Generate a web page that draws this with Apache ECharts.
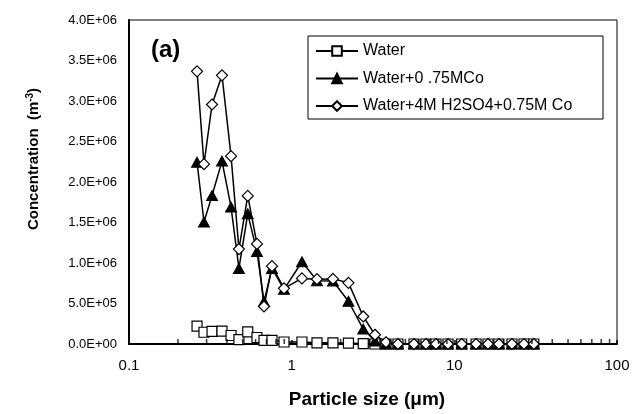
<!DOCTYPE html>
<html>
<head>
<meta charset="utf-8">
<script src="https://cdn.jsdelivr.net/npm/echarts@6/dist/echarts.min.js"></script>
<style>
  html, body { margin: 0; padding: 0; background: #fff; }
  #chart { width: 633px; height: 414px; }
</style>
</head>
<body>
<div id="chart"></div>
<script>
// particle size channels (um)
const sizes = [0.262, 0.289, 0.324, 0.373, 0.424, 0.474, 0.537, 0.612, 0.676, 0.757,
  0.897, 1.157, 1.431, 1.794, 2.234, 2.755, 3.25, 3.80, 4.50, 5.65,
  6.69, 7.71, 9.14, 11.1, 13.6, 16.1, 18.8, 22.6, 26.8, 30.8]

const water = [2.2e5, 1.45e5, 1.55e5, 1.6e5, 1.05e5, 5.5e4, 1.5e5, 8.0e4, 4.5e4, 4.5e4,
  2.5e4, 2.5e4, 1.5e4, 1.5e4, 1.0e4, 5e3, 0, 0, 0, 0,
  0, 0, 0, 0, 0, 0, 0, 0, 0, 0]

const waterCo = [2.245e6, 1.506e6, 1.834e6, 2.258e6, 1.69e6, 9.33e5, 1.607e6, 1.141e6, 5.24e5, 9.33e5,
  6.75e5, 1.015e6, 7.82e5, 7.77e5, 5.28e5, 1.84e5, 3.7e4, 0, 0, 0,
  0, 0, 0, 0, 0, 0, 0, 0, 0, 0]

const waterAcidCo = [3.366e6, 2.22e6, 2.957e6, 3.317e6, 2.319e6, 1.172e6, 1.828e6, 1.236e6, 4.63e5, 9.61e5,
  6.87e5, 8.1e5, 8.0e5, 8.04e5, 7.55e5, 3.4e5, 1.14e5, 2.1e4, 0, 0,
  0, 0, 0, 0, 0, 0, 0, 0, 0, 0]

// log axis minor tick positions
const minorTicks = [0.2, 0.3, 0.4, 0.5, 0.6, 0.7, 0.8, 0.9,
  2, 3, 4, 5, 6, 7, 8, 9, 20, 30, 40, 50, 60, 70, 80, 90]

const seriesNames = ['Water', 'Water+0 .75MCo', 'Water+4M H2SO4+0.75M Co']

const FONT = 'Liberation Sans, Arial, sans-serif'

function pairs(ys) {
  return sizes.map((x, i) => [x, ys[i]])
}

function sci(v) {
  const [m, e] = v.toExponential(1).split('e')
  const n = Math.abs(+e)
  return m + 'E' + (+e < 0 ? '-' : '+') + (n < 10 ? '0' + n : n)
}

const lineBase = {
  type: 'line',
  lineStyle: { color: '#000', width: 1.5 },
  itemStyle: { color: '#fff', borderColor: '#000', borderWidth: 1.2 },
  emphasis: { disabled: true },
  animation: false,
}

const chart = echarts.init(document.getElementById('chart'), null, { renderer: 'canvas' })

chart.setOption({
  animation: false,
  title: {
    text: '(a)',
    left: 151,
    top: 38,
    padding: 0,
    textStyle: { fontFamily: FONT, fontWeight: 'bold', fontSize: 24, color: '#000' },
  },
  grid: {
    left: 129, right: 16, top: 20, bottom: 68,
    show: true, borderColor: '#000', borderWidth: 1,
  },
  legend: {
    orient: 'vertical',
    left: 308,
    top: 36,
    padding: [7, 8, 5, 7],
    itemGap: 11.5,
    itemWidth: 42,
    itemHeight: 12,
    borderColor: '#000',
    borderWidth: 1,
    data: seriesNames,
    textStyle: { fontFamily: FONT, fontSize: 16, color: '#000', width: 232, lineHeight: 16 },
  },
  xAxis: {
    type: 'log',
    logBase: 10,
    min: 0.1,
    max: 100,
    name: 'Particle size (\u03bcm)',
    nameLocation: 'middle',
    nameGap: 46,
    nameTextStyle: { fontFamily: FONT, fontWeight: 'bold', fontSize: 19, color: '#000', padding: [0, 12, 0, 0] },
    axisLine: { onZero: false, lineStyle: { color: '#000', width: 2 } },
    axisTick: { inside: true, length: 4, lineStyle: { color: '#000', width: 1.5 } },
    axisLabel: {
      margin: 14,
      fontFamily: FONT, fontSize: 15, color: '#000',
      formatter: (v) => String(+v.toPrecision(3)),
    },
    splitLine: { show: false },
  },
  yAxis: {
    type: 'value',
    min: 0,
    max: 4e6,
    interval: 5e5,
    name: '{t|Concentration  (m}{s|-3}{t|)}',
    nameLocation: 'middle',
    nameGap: 86,
    nameTextStyle: {
      padding: [0, 0, 0, 46],
      rich: {
        t: { fontFamily: FONT, fontWeight: 'bold', fontSize: 15, color: '#000' },
        s: { fontFamily: FONT, fontWeight: 'bold', fontSize: 10, color: '#000', verticalAlign: 'top', padding: [0, 0, 8, 0] },
      },
    },
    axisLine: { show: true, lineStyle: { color: '#000', width: 2 } },
    axisTick: { show: false },
    axisLabel: { margin: 12, fontFamily: FONT, fontSize: 13, color: '#000', formatter: sci },
    splitLine: { show: false },
  },
  series: [
    {
      type: 'scatter',
      name: 'minor',
      silent: true,
      clip: false,
      symbol: 'rect',
      symbolSize: [1.5, 5],
      symbolOffset: [0, -2.5],
      itemStyle: { color: '#000' },
      data: minorTicks.map((x) => [x, 0]),
      z: 10,
    },
    {
      ...lineBase,
      name: seriesNames[0],
      symbol: 'rect',
      symbolSize: 10,
      data: pairs(water),
    },
    {
      ...lineBase,
      name: seriesNames[1],
      symbol: 'triangle',
      symbolSize: [11, 10],
      itemStyle: { color: '#000', borderColor: '#000', borderWidth: 1 },
      data: pairs(waterCo),
    },
    {
      ...lineBase,
      name: seriesNames[2],
      symbol: 'diamond',
      symbolSize: 11,
      data: pairs(waterAcidCo),
    },
  ],
})
</script>
</body>
</html>
